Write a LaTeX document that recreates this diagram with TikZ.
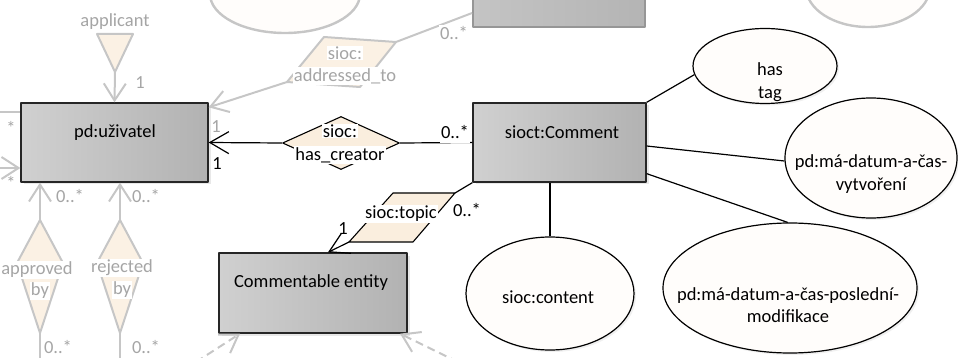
\documentclass[tikz,border=0pt]{standalone}
\usepackage{fontspec}
\setmainfont{Carlito}
\usetikzlibrary{shapes.geometric,arrows.meta,shadows}

\definecolor{boxL}{RGB}{208,208,208}
\definecolor{boxR}{RGB}{178,178,178}
\definecolor{ellFill}{RGB}{255,253,251}
\definecolor{relFill}{RGB}{250,238,222}
\definecolor{fadeLine}{RGB}{198,198,198}
\definecolor{fadeText}{RGB}{165,165,165}
\definecolor{fadeRel}{RGB}{251,241,228}
\definecolor{fadeEll}{RGB}{255,253,251}
\definecolor{fadeBoxL}{RGB}{196,196,196}
\definecolor{fadeBoxR}{RGB}{180,180,180}
\definecolor{fadeBorder}{RGB}{150,150,150}

\begin{document}
\begin{tikzpicture}[x=1pt,y=-1pt,line join=round,
  txt/.style={font=\fontsize{18.5}{22.5}\selectfont,inner sep=1pt,align=center},
  ftxt/.style={txt,text=fadeText},
  wb/.style={fill=white},
  entitybox/.style={rectangle,draw=black!85,line width=1.3pt,left color=boxL,right color=boxR,
    inner sep=0pt,drop shadow={shadow xshift=2.5pt,shadow yshift=-2.5pt,opacity=0.18}},
  attr/.style={ellipse,draw=black,line width=1.2pt,fill=ellFill,inner sep=0pt,
    drop shadow={shadow xshift=2pt,shadow yshift=-2pt,opacity=0.12}},
  rel/.style={draw=black,line width=1.1pt,fill=relFill},
  link/.style={draw=black,line width=1.2pt},
  barb/.style={-{Straight Barb[length=19pt,width=22pt,line width=1.2pt]}},
  flink/.style={draw=fadeLine,line width=2pt},
  fbarb/.style={-{Straight Barb[length=17pt,width=22pt]}},
  frel/.style={draw=fadeLine,line width=2pt,fill=fadeRel},
  fbox/.style={rectangle,draw=fadeBorder,line width=1.8pt,left color=fadeBoxL,right color=fadeBoxR,inner sep=0pt},
  fattr/.style={ellipse,draw=fadeLine,line width=2.4pt,fill=fadeEll,inner sep=0pt}]

\useasboundingbox (0,0) rectangle (958,358);

% ---------- background (faded) part of the model ----------
\node[fattr,minimum width=150pt,minimum height=78pt] (fadeEllA) at (285,-6) {};
\node[fattr,minimum width=124pt,minimum height=80pt] (fadeEllB) at (868,-13) {};
\node[fbox,minimum width=172pt,minimum height=78pt] (topbox) at (559,-12) {};

% ---------- main entities ----------
\node[entitybox,minimum width=187pt,minimum height=79pt] (user) at (114.5,142.5) {};
\node[txt] (userT) at (115,133) {pd:uživatel};

\node[entitybox,minimum width=173pt,minimum height=79pt] (comment) at (559.5,142.5) {};
\node[txt] (commentT) at (562,132) {sioct:Comment};

\node[entitybox,minimum width=188pt,minimum height=80pt] (entity) at (313,293) {};
\node[txt] (entityT) at (311,283) {Commentable entity};

% ---------- attributes of the comment ----------
\node[attr,minimum width=144pt,minimum height=75pt] (hastag) at (765,66) {};
\node[txt] (hastagT) at (770,82) {has\\tag};

\node[attr,minimum width=172pt,minimum height=120pt] (created) at (871,158) {};
\node[txt] (createdT) at (871,174) {pd:má-datum-a-čas-\\vytvoření};

\node[attr,minimum width=168pt,minimum height=113pt] (content) at (550,293.5) {};
\node[txt] (contentT) at (548,297) {sioc:content};

\node[attr,minimum width=254pt,minimum height=130pt] (modified) at (790,288) {};
\node[txt] (modifiedT) at (788,305) {pd:má-datum-a-čas-poslední-\\modifikace};

\draw[link] (comment.north east) -- (hastag.187);
\draw[link] ([yshift=-3.5pt]comment.east) -- (created.182);
\draw[link] ([yshift=9pt]comment.south east) -- (modified.92);
\draw[link] (content.north) -- (content.north |- comment.south);

% ---------- sioc:has_creator ----------
\node[diamond,rel,minimum width=117pt,minimum height=53pt,inner sep=0pt] (hc) at (341,143) {};
\draw[link] (comment.west) -- (hc.east);
\draw[link,barb] (hc.west) -- (user.east);
\node[txt,wb] (hcA) at (340,131) {sioc:};
\node[txt,wb] (hcB) at (340,155) {has\_creator};
\node[txt,wb,inner ysep=4pt] (hcMany) at (455,132) {0..*};
\node[txt] (hcOne) at (217,164) {1};

% ---------- sioc:topic ----------
\coordinate (tpTL) at (393,193);
\coordinate (tpR) at (455,193);
\coordinate (tpBR) at (413,242);
\coordinate (tpL) at (349,242);
\draw[rel] (tpTL) -- (tpR) -- (tpBR) -- (tpL) -- cycle;
\draw[link] (comment.south west) -- (tpR);
\draw[link,barb] (tpL) -- ([xshift=15pt]entity.north);
\node[txt,wb] (tpT) at (401,214) {sioc:topic};
\node[txt] (tpMany) at (467,210) {0..*};
\node[txt] (tpOne) at (343,229) {1};

% ---------- faded: applicant ----------
\coordinate (apA) at (97,34);
\coordinate (apB) at (133,34);
\coordinate (apC) at (115,72);
\draw[frel] (apA) -- (apB) -- (apC) -- cycle;
\node[ftxt,wb] (apT) at (115,22) {applicant};
\draw[flink,fbarb] (apC) -- (user.north);
\node[ftxt] (apOne) at (140,83) {1};

% ---------- faded: sioc:addressed_to ----------
\coordinate (adTL) at (324,37);
\coordinate (adR) at (396,42);
\coordinate (adBR) at (360,87);
\coordinate (adL) at (287,82);
\draw[flink] ([yshift=-25pt]topbox.west) -- (adR);
\draw[frel] (adTL) -- (adR) -- (adBR) -- (adL) -- cycle;
\draw[flink,fbarb] (adL) -- ([yshift=-5pt]user.north east);
\node[ftxt,wb] (adA) at (345,53) {sioc:};
\node[ftxt,wb] (adB) at (345,76) {addressed\_to};
\node[ftxt,wb] (adMany) at (454,33) {0..*};
\node[ftxt] (adOne) at (216,127) {1};

% ---------- faded: approved by / rejected by ----------
\coordinate (avT) at (40,220);
\coordinate (avR) at (63,263);
\coordinate (avB) at (40,333);
\coordinate (avL) at (17,263);
\coordinate (avEnd) at (40,372);
\draw[frel] (avT) -- (avR) -- (avB) -- (avL) -- cycle;
\draw[flink,fbarb] (avT) -- (user.south -| avT);
\draw[flink] (avB) -- (avEnd);
\node[ftxt,wb] (avA) at (37,270) {approved};
\node[ftxt,wb] (avBy) at (40,291) {by};
\node[ftxt] (avManyA) at (70,196) {0..*};
\node[ftxt] (avManyB) at (58,347) {0..*};

\coordinate (rjT) at (120,220);
\coordinate (rjR) at (143,263);
\coordinate (rjB) at (120,333);
\coordinate (rjL) at (97,263);
\coordinate (rjEnd) at (120,372);
\draw[frel] (rjT) -- (rjR) -- (rjB) -- (rjL) -- cycle;
\draw[flink,fbarb] (rjT) -- (user.south -| rjT);
\draw[flink] (rjB) -- (rjEnd);
\node[ftxt,wb] (rjA) at (122,268) {rejected};
\node[ftxt,wb] (rjBy) at (122,290) {by};
\node[ftxt] (rjManyA) at (146,196) {0..*};
\node[ftxt] (rjManyB) at (146,347) {0..*};

% ---------- faded: links entering from the left ----------
\coordinate (lfA) at (-2,112);
\coordinate (lfB) at (-2,168);
\draw[flink] (lfA) -- (user.west |- lfA);
\draw[flink,fbarb] (lfB) -- (user.west |- lfB);
\node[ftxt] (lfStarA) at (11,128) {*};
\node[ftxt] (lfStarB) at (11,183) {*};

% ---------- faded: dashed links below the commentable entity ----------
\coordinate (dnA) at (196,362);
\coordinate (dnB) at (458,362);
\draw[flink,dash pattern=on 8pt off 5pt,fbarb] (dnA) -- ([xshift=-73pt]entity.south);
\draw[flink,dash pattern=on 8pt off 5pt,fbarb] (dnB) -- ([xshift=87pt]entity.south);

\end{tikzpicture}
\end{document}
